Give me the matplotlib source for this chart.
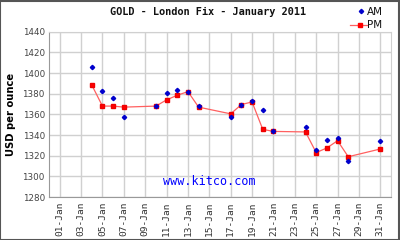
import matplotlib
matplotlib.use('Agg')
import matplotlib.pyplot as plt
from matplotlib.patches import Rectangle
import numpy as np

# London gold fix, January 2011 (USD per ounce)
days = [4, 5, 6, 7, 10, 11, 12, 13, 14, 17, 18, 19, 20, 21, 24, 25, 26, 27, 28, 31]
am_fix = [1406.0, 1382.5, 1376.0, 1357.5, 1368.0, 1381.0, 1383.5, 1381.5, 1368.5, 1357.5,
          1369.0, 1373.0, 1364.5, 1343.5, 1347.5, 1325.5, 1335.0, 1337.0, 1315.0, 1334.0]
pm_fix = [1388.5, 1368.0, 1368.0, 1367.0, 1368.0, 1374.0, 1378.5, 1382.0, 1367.0, 1360.5,
          1369.5, 1372.0, 1345.5, 1343.5, 1343.0, 1323.0, 1327.5, 1334.5, 1319.0, 1326.5]
tick_days = list(range(1, 32, 2))
tick_labels = ['%02d-Jan' % d for d in tick_days]
y_ticks = list(range(1280, 1441, 20))

fig = plt.figure(figsize=(4, 2.4), dpi=100)
ax = fig.add_axes([0.1225, 0.179, 0.855, 0.689])

ax.plot(days, pm_fix, '-', color='#ff6060', lw=0.9, zorder=2)
ax.plot(days, pm_fix, 's', color='#ff0000', ms=3.2, mec='#ee0000', zorder=3, linestyle='none')
ax.plot(days, am_fix, 'D', color='#0000cc', ms=2.2, zorder=4, linestyle='none')

ax.set_xlim(0, 32)
ax.set_ylim(1280, 1440)
ax.set_xticks(tick_days)
ax.set_xticklabels(tick_labels, rotation=90, family='DejaVu Sans Mono', fontsize=6.8, color='#333333')
ax.set_yticks(y_ticks)
ax.set_yticklabels([str(v) for v in y_ticks], fontsize=6.3, color='#444444')
ax.tick_params(axis='both', length=0, pad=3)
ax.grid(True, color='#d0d0d0', lw=1.0)
ax.set_axisbelow(True)
for side in ['top', 'right']:
    ax.spines[side].set_color('#d0d0d0')
for side in ['left', 'bottom']:
    ax.spines[side].set_color('#999999')

ax.set_ylabel('USD per ounce', fontsize=7.2, fontweight='bold')
ax.yaxis.set_label_coords(-0.097, 0.5)

fig.text(0.52, 0.948, 'GOLD - London Fix - January 2011', ha='center', va='center',
         family='DejaVu Sans Mono', fontsize=7.4, fontweight='bold', color='#111111')
ax.text(0.47, 0.095, 'www.kitco.com', transform=ax.transAxes, ha='center', va='center',
        family='DejaVu Sans Mono', fontsize=8.5, color='#0000ff')

# legend
fig.text(0.918, 0.952, 'AM', ha='left', va='center', fontsize=7.5, color='#111111')
fig.text(0.918, 0.895, 'PM', ha='left', va='center', fontsize=7.5, color='#111111')
ax_leg = fig.add_axes([0.87, 0.86, 0.05, 0.12])
ax_leg.set_xlim(0, 1)
ax_leg.set_ylim(0, 1)
ax_leg.axis('off')
ax_leg.plot([0.65], [0.77], 'D', color='#0000cc', ms=2.2)
ax_leg.plot([0.1, 0.95], [0.29, 0.29], '-', color='#ff6060', lw=0.9)
ax_leg.plot([0.6], [0.29], 's', color='#ff0000', ms=3.2)

fig.patches.append(Rectangle((0.001, 0.002), 0.997, 0.995, transform=fig.transFigure,
                             fill=False, edgecolor='#555555', lw=1.5))

plt.savefig('out.png', dpi=100)
